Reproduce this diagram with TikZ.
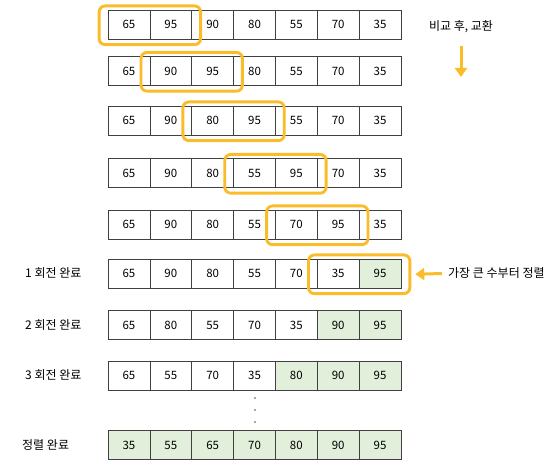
\documentclass[tikz,border=0pt]{standalone}
\usepackage{fontspec}
\setmainfont{Noto Sans CJK KR}
\usetikzlibrary{fit,arrows.meta}
\definecolor{hlorange}{RGB}{251,188,42}
\definecolor{sortgreen}{RGB}{226,239,218}
\tikzset{
  cell/.style={draw=black!75,line width=0.7pt,minimum width=41.86pt,minimum height=29pt,inner sep=0pt,font=\fontsize{11.5}{13}\selectfont},
  swapbox/.style={draw=hlorange,line width=2.9pt,rounded corners=6pt,inner xsep=8.5pt,inner ysep=4.5pt},
  note/.style={font=\fontsize{12}{14}\selectfont,inner sep=1pt},
  bigarrow/.style={hlorange,line width=3pt,-{Triangle[width=12pt,length=9pt]}}
}
\begin{document}
\begin{tikzpicture}[x=1pt,y=-1pt]
\useasboundingbox (0,0) rectangle (560,470);
% rows of cells
\foreach \r/\yy/\vals/\g in {1/24.5/{65,95,90,80,55,70,35}/0,
  2/71/{65,90,95,80,55,70,35}/0, 3/120.5/{65,90,80,95,55,70,35}/0,
  4/173/{65,90,80,55,95,70,35}/0, 5/224.5/{65,90,80,55,70,95,35}/0,
  6/273.5/{65,90,80,55,70,35,95}/1, 7/325/{65,80,55,70,35,90,95}/2,
  8/375.5/{65,55,70,35,80,90,95}/3, 9/445/{35,55,65,70,80,90,95}/7}{
  \foreach \v [count=\c] in \vals {
    \ifnum\c>\numexpr7-\g\relax\def\cellcol{sortgreen}\else\def\cellcol{white}\fi
    \node[cell,fill=\cellcol] (r\r c\c) at ({128.93+41.86*(\c-1)},\yy) {\v};
  }
}
% compared pairs
\foreach \r in {1,...,6}{
  \pgfmathtruncatemacro\d{\r+1}
  \node[swapbox,fit=(r\r c\r)(r\r c\d),yshift=-0.8pt] (hl\r) {};
}
% pass labels
\node[note,anchor=west] (lab6) at (24,273.5) {1 회전 완료};
\node[note,anchor=west] (lab7) at (24,325) {2 회전 완료};
\node[note,anchor=west] (lab8) at (24,375.5) {3 회전 완료};
\node[note,anchor=west] (lab9) at (21,445) {정렬 완료};
\foreach \yy in {398,410,422} \fill[black!70] (255,\yy) circle (0.8pt);
% notes on the right
\node[note] (swap) at (461,27) {비교 후, 교환};
\coordinate (swaptop) at (461,46);
\coordinate (swapend) at (461,77);
\draw[bigarrow] (swaptop) -- (swapend);
\node[note,anchor=west] (big) at (447,273.5) {가장 큰 수부터 정렬};
\draw[bigarrow] ([xshift=-5pt]big.west) -- ([xshift=4pt]hl6.east);
\end{tikzpicture}
\end{document}
